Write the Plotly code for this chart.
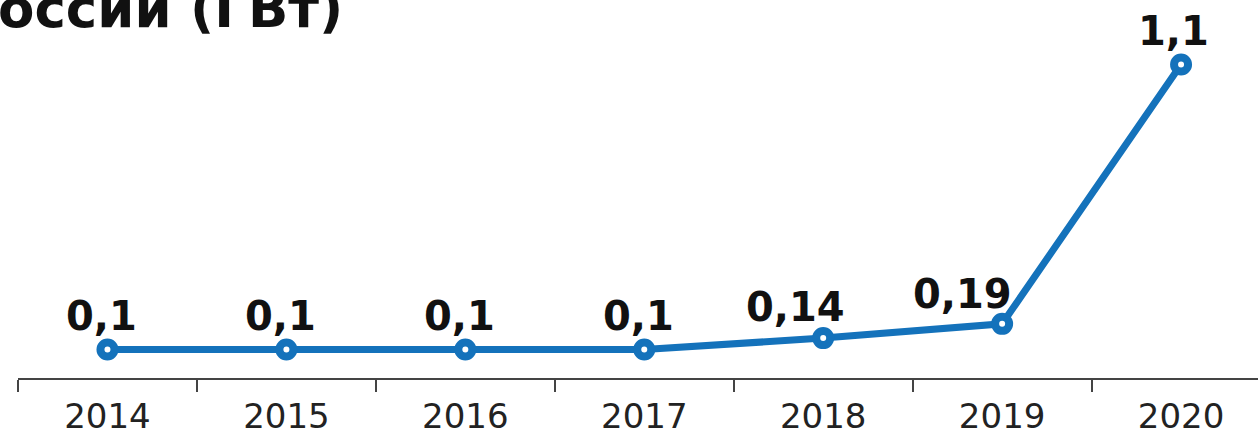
import plotly.graph_objects as go

years = ["2014", "2015", "2016", "2017", "2018", "2019", "2020"]
values = [0.1, 0.1, 0.1, 0.1, 0.14, 0.19, 1.1]
labels = ["0,1", "0,1", "0,1", "0,1", "0,14", "0,19", "1,1"]
label_xshift = [-6, -6, -6, -6, -28, -40, -8]
label_yshift = [9, 9, 9, 9, 6, 5, 9]

blue = "#1472bb"

fig = go.Figure()
fig.add_trace(go.Scatter(
    x=years, y=values, mode="lines+markers",
    line=dict(color=blue, width=7),
    marker=dict(symbol="circle", size=14, color="white",
                line=dict(color=blue, width=8)),
    hoverinfo="skip", showlegend=False,
))

for i, (y, t, dx, dy) in enumerate(zip(values, labels, label_xshift, label_yshift)):
    fig.add_annotation(x=i, y=y, text="<b>" + t + "</b>", showarrow=False,
                       xanchor="center", yanchor="bottom",
                       xshift=dx, yshift=dy,
                       font=dict(family="DejaVu Sans", size=40, color="#111111"))

fig.add_annotation(xref="paper", yref="paper", x=-22/1240, y=1.094,
                   xanchor="left", yanchor="middle", showarrow=False,
                   text="<b>оссии (ГВт)</b>",
                   font=dict(family="DejaVu Sans", size=53, color="#111111"))

fig.update_layout(
    width=1258, height=436,
    margin=dict(l=18, r=0, t=40, b=52),
    paper_bgcolor="white", plot_bgcolor="white",
    xaxis=dict(type="category", range=[-0.5, 6.43], tickson="boundaries",
               showline=True, linecolor="#444444", linewidth=2,
               ticks="outside", ticklen=12, tickwidth=2, tickcolor="#444444",
               ticklabelstandoff=7,
               showgrid=False, zeroline=False,
               tickfont=dict(family="DejaVu Sans", size=34, color="#222222")),
    yaxis=dict(range=[0, 1.186], visible=False, showgrid=False,
               zeroline=False),
)

fig.write_html(
    "out.html",
    config={"displayModeBar": False},
    post_script="document.body.style.margin='0';document.documentElement.style.overflow='hidden';",
)
